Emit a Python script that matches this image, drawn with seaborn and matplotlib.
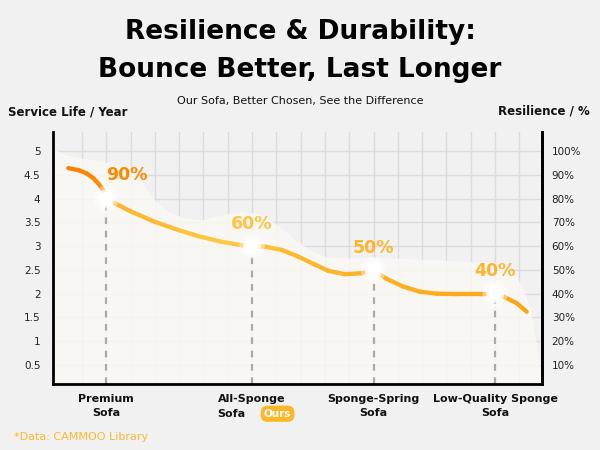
import numpy as np
import matplotlib
matplotlib.use("Agg")
import matplotlib.pyplot as plt
import seaborn as sns
from matplotlib.collections import LineCollection
from matplotlib.colors import LinearSegmentedColormap, Normalize

# categories and their values
categories = ["Premium\nSofa", "All-Sponge", "Sponge-Spring\nSofa", "Low-Quality Sponge\nSofa"]
cat_pos = [1, 7, 12, 17]
service_life = [4.0, 3.0, 2.5, 2.0]
resilience = [90, 60, 50, 40]
res_labels = ["90%", "60%", "50%", "40%"]
res_colors = ["#FF8A00", "#FFC443", "#FFB52B", "#FFB52B"]

# smoothed service-life curve
curve_x = [-0.56, -0.15, 0.19, 0.47, 0.67, 0.88, 1.0, 1.36, 2.05, 3.0, 3.96, 4.79,
           5.75, 6.57, 7.0, 7.53, 8.22, 8.9, 9.59, 10.14, 10.82, 11.51, 12.0, 12.54,
           13.22, 13.91, 14.6, 15.42, 16.38, 17.0, 17.34, 17.89, 18.3]
curve_y = [4.64, 4.6, 4.53, 4.43, 4.32, 4.17, 4.0, 3.9, 3.72, 3.51, 3.34, 3.21,
           3.09, 3.02, 3.0, 2.99, 2.92, 2.78, 2.61, 2.48, 2.41, 2.43, 2.5, 2.31,
           2.15, 2.04, 2.0, 1.99, 1.99, 2.0, 1.94, 1.8, 1.62]

# soft background area
area_x = [-1.19, -0.7, 0.0, 0.95, 1.65, 2.18, 2.59, 3.0, 3.54, 4.24, 4.94, 5.76,
          6.5, 7.12, 7.65, 8.15, 8.68, 9.38, 10.08, 10.82, 11.85, 14.61, 15.97,
          17.33, 17.74, 18.15, 18.44, 18.68, 18.85, 18.93]
area_y = [5.06, 4.92, 4.85, 4.77, 4.71, 4.5, 4.24, 3.97, 3.72, 3.59, 3.55, 3.66,
          3.72, 3.7, 3.59, 3.4, 3.17, 2.92, 2.77, 2.75, 2.77, 2.71, 2.67,
          2.65, 2.5, 2.12, 1.66, 1.03, 0.4, 0.1]

year_ticks = [0.5, 1, 1.5, 2, 2.5, 3, 3.5, 4, 4.5, 5]
pct_ticks = [10, 20, 30, 40, 50, 60, 70, 80, 90, 100]

sns.set_theme(style="white")
plt.rcParams["font.family"] = ["DejaVu Sans"]

bg = "#F1F1F1"
fig = plt.figure(figsize=(6, 4.5), dpi=100, facecolor=bg)
ax = fig.add_axes([53 / 600, 66 / 450, 489 / 600, 252 / 450])
ax.set_facecolor(bg)
ylo, yhi = 0.1, 5.4
ax.set_xlim(-1.19, 18.93)
ax.set_ylim(ylo, yhi)

# grid
for gx in range(0, 19):
    ax.axvline(gx, color="#DCDCDC", lw=1, zorder=0)
for gy in year_ticks:
    ax.axhline(gy, color="#DCDCDC", lw=1, zorder=0)

ax.fill_between(area_x, ylo, area_y, color="#FAF9F5", alpha=0.82, lw=0, zorder=1)

# dashed drop lines
ax.vlines(cat_pos, ylo, service_life, colors="#A9A9A9", lw=1.6,
          linestyles=(0, (3, 3)), zorder=2)

# gradient line
pts = np.column_stack([curve_x, curve_y])
segs = np.stack([pts[:-1], pts[1:]], axis=1)
mids = (pts[:-1, 0] + pts[1:, 0]) / 2
cmap = LinearSegmentedColormap.from_list(
    "sofa", [(0.0, "#FF7E00"), (0.07, "#FF8C08"), (0.1, "#FFB22A"),
             (0.35, "#FFCB44"), (0.5, "#FFB82C"), (1.0, "#FFA414")])
lc = LineCollection(segs, cmap=cmap, norm=Normalize(-0.6, 18.4), lw=3.1,
                    capstyle="round", joinstyle="round", zorder=3)
lc.set_array(mids)
ax.add_collection(lc)

# glowing markers
sns.scatterplot(x=cat_pos, y=service_life, s=330, color="white", alpha=0.4,
                edgecolor="none", ax=ax, zorder=4, legend=False)
sns.scatterplot(x=cat_pos, y=service_life, s=170, color="white", alpha=0.75,
                edgecolor="none", ax=ax, zorder=4, legend=False)
sns.scatterplot(x=cat_pos, y=service_life, s=95, color="white",
                edgecolor="none", ax=ax, zorder=5, legend=False)

for i, (xp, yv) in enumerate(zip(cat_pos, service_life)):
    off = (15, 17) if i == 0 else (0, 16)
    ax.annotate(res_labels[i], (xp, yv), xytext=off, textcoords="offset points",
                ha="center", va="center", fontsize=12.5, fontweight="bold",
                color=res_colors[i], zorder=6)

# axes styling
ax.set_xticks(cat_pos)
ax.set_xticklabels(categories, fontsize=8, fontweight="bold", color="#111111",
                   linespacing=1.5)
ax.set_yticks(year_ticks)
ax.set_yticklabels([f"{v:g}" for v in year_ticks], fontsize=7.5, color="#222222")
ax.tick_params(axis="both", length=0)
ax.tick_params(axis="x", pad=7)
ax.tick_params(axis="y", pad=9)
for side in ["left", "bottom", "right"]:
    ax.spines[side].set_visible(True)
    ax.spines[side].set_color("black")
    ax.spines[side].set_linewidth(2)
ax.spines["top"].set_visible(False)

ax2 = ax.twinx()
ax2.set_ylim(ylo * 20, yhi * 20)
ax2.set_yticks(pct_ticks)
ax2.set_yticklabels([f"{v}%" for v in pct_ticks], fontsize=7.5, color="#222222")
ax2.tick_params(axis="y", length=0, pad=7)
for side in ["left", "top", "bottom"]:
    ax2.spines[side].set_visible(False)
ax2.spines["right"].set_color("black")
ax2.spines["right"].set_linewidth(2)
ax2.grid(False)

# "Sofa" + Ours badge under All-Sponge
tr = ax.get_xaxis_transform()
ax.text(6.15, -0.118, "Sofa", transform=tr, ha="center", va="center",
        fontsize=8, fontweight="bold", color="#111111", clip_on=False)
ax.text(8.05, -0.118, "Ours", transform=tr, ha="center", va="center",
        fontsize=7.5, fontweight="bold", color="white", clip_on=False,
        bbox=dict(boxstyle="round,pad=0.3,rounding_size=0.65", fc="#FFB627", ec="none"))

# titles
fig.text(0.5, 1 - 32 / 450, "Resilience & Durability:", ha="center", va="center",
         fontsize=19, fontweight="bold", color="black")
fig.text(0.5, 1 - 70 / 450, "Bounce Better, Last Longer", ha="center", va="center",
         fontsize=19, fontweight="bold", color="black")
fig.text(0.5, 1 - 101 / 450, "Our Sofa, Better Chosen, See the Difference",
         ha="center", va="center", fontsize=8, color="#111111")
fig.text(8 / 600, 1 - 112 / 450, "Service Life / Year", ha="left", va="center",
         fontsize=8.5, fontweight="bold", color="#111111")
fig.text(590 / 600, 1 - 111 / 450, "Resilience / %", ha="right", va="center",
         fontsize=8.5, fontweight="bold", color="#111111")
fig.text(14 / 600, 1 - 437 / 450, "*Data: CAMMOO Library", ha="left", va="center",
         fontsize=8, color="#FFB830")

fig.savefig("out.png", dpi=100, facecolor=bg)
